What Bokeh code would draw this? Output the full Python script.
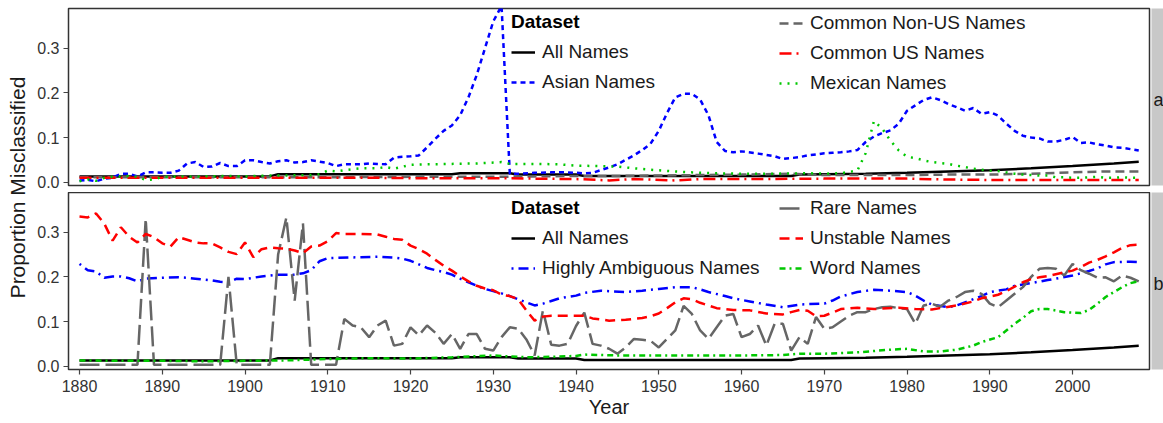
from math import pi
from bokeh.plotting import figure
from bokeh.models import Range1d, FixedTicker, PrintfTickFormatter, Legend, LegendItem, Label
from bokeh.layouts import row, column
from bokeh.embed import file_html
from bokeh.resources import INLINE

# ---------------- data (year, proportion misclassified) ----------------
x_ticks = [1880, 1890, 1900, 1910, 1920, 1930, 1940, 1950, 1960, 1970, 1980, 1990, 2000]
y_ticks = [0.0, 0.1, 0.2, 0.3]

all_names = [(1880, .013), (1903, .013), (1904, .018), (1925, .018), (1926, .020), (1932, .020),
             (1933, .017), (1940, .017), (1941, .014), (1966, .014), (1967, .017), (1970, .018),
             (1975, .019), (1980, .021), (1985, .024), (1990, .027), (1995, .031), (2000, .036),
             (2005, .042), (2008, .046)]

asian = [(1880, .004), (1881, .005), (1882, .002), (1883, .008), (1884, .010), (1885, .019), (1886, .019),
         (1887, .013), (1888, .022), (1889, .022), (1890, .021), (1891, .021), (1892, .026), (1893, .042),
         (1894, .045), (1895, .034), (1896, .035), (1897, .043), (1898, .036), (1899, .036), (1900, .049),
         (1901, .049), (1902, .045), (1903, .042), (1904, .047), (1905, .049), (1906, .044), (1907, .045),
         (1908, .049), (1909, .046), (1910, .043), (1911, .036), (1912, .040), (1913, .040), (1914, .040),
         (1915, .042), (1916, .041), (1917, .040), (1918, .055), (1919, .057), (1920, .058), (1921, .060),
         (1922, .078), (1923, .097), (1924, .115), (1925, .127), (1926, .150), (1927, .190), (1928, .240),
         (1929, .300), (1930, .360), (1931, .395), (1932, .019), (1933, .019), (1935, .021), (1937, .022),
         (1939, .022), (1941, .020), (1942, .021), (1943, .027), (1944, .033), (1945, .040), (1946, .050),
         (1947, .060), (1948, .072), (1949, .086), (1950, .115), (1951, .155), (1952, .190), (1953, .198),
         (1954, .198), (1955, .185), (1956, .150), (1957, .090), (1958, .070), (1959, .067), (1960, .069),
         (1962, .064), (1964, .058), (1965, .052), (1966, .054), (1967, .056), (1968, .060), (1969, .062),
         (1970, .065), (1971, .066), (1972, .067), (1973, .069), (1974, .072), (1975, .090), (1976, .102),
         (1977, .110), (1978, .116), (1979, .131), (1980, .160), (1981, .172), (1982, .184), (1983, .190),
         (1984, .184), (1985, .175), (1986, .168), (1987, .160), (1988, .166), (1989, .153), (1990, .157),
         (1991, .149), (1992, .131), (1993, .115), (1994, .104), (1995, .100), (1996, .098), (1997, .091),
         (1998, .091), (1999, .095), (2000, .101), (2001, .088), (2002, .089), (2003, .085), (2004, .082),
         (2005, .078), (2006, .077), (2007, .074), (2008, .071)]

common_non_us = [(1880, .011), (1890, .011), (1900, .011), (1910, .011), (1920, .012), (1930, .012),
                 (1935, .013), (1940, .014), (1945, .014), (1950, .015), (1955, .016), (1960, .017),
                 (1966, .019), (1970, .016), (1975, .016), (1980, .016), (1985, .017), (1990, .017),
                 (1995, .019), (2000, .022), (2004, .024), (2008, .024)]

common_us = [(1880, .010), (1890, .010), (1900, .010), (1910, .010), (1915, .010), (1920, .009),
             (1930, .009), (1935, .008), (1940, .007), (1944, .004), (1947, .007), (1952, .004),
             (1955, .007), (1960, .007), (1970, .008), (1980, .008), (1985, .006), (1990, .005),
             (2000, .005), (2008, .005)]

mexican = [(1880, .002), (1881, .006), (1882, .003), (1883, .010), (1884, .012), (1885, .013), (1886, .014),
           (1887, .012), (1888, .005), (1889, .006), (1890, .012), (1892, .013), (1895, .013), (1898, .014),
           (1900, .013), (1903, .015), (1905, .015), (1908, .016), (1909, .018), (1910, .026), (1911, .024),
           (1912, .027), (1914, .031), (1916, .031), (1917, .034), (1918, .030), (1920, .039), (1922, .040),
           (1925, .041), (1928, .042), (1931, .045), (1932, .041), (1935, .041), (1938, .040), (1940, .037),
           (1943, .036), (1945, .035), (1947, .031), (1949, .028), (1952, .024), (1954, .022), (1957, .020),
           (1960, .019), (1964, .019), (1968, .020), (1970, .019), (1972, .020), (1974, .026), (1975, .065),
           (1976, .137), (1977, .120), (1978, .093), (1979, .071), (1980, .057), (1981, .054), (1982, .049),
           (1983, .045), (1984, .043), (1985, .041), (1986, .037), (1987, .034), (1988, .030), (1989, .028),
           (1990, .026), (1991, .025), (1992, .022), (1993, .019), (1994, .017), (1995, .016), (1996, .015),
           (1997, .015), (1998, .011), (1999, .011), (2000, .010), (2001, .010), (2002, .011), (2003, .012),
           (2004, .010), (2005, .010), (2006, .011), (2007, .010), (2008, .010)]

rare = [(1880, .003), (1887, .003), (1888, .330), (1889, .003), (1897, .003), (1898, .200), (1899, .003),
        (1903, .003), (1904, .250), (1905, .333), (1906, .147), (1907, .320), (1908, .003), (1911, .003),
        (1912, .106), (1913, .091), (1914, .087), (1915, .065), (1916, .091), (1917, .102), (1918, .046),
        (1919, .050), (1920, .087), (1921, .069), (1922, .091), (1923, .075), (1924, .050), (1925, .072),
        (1926, .039), (1927, .072), (1928, .072), (1929, .039), (1930, .035), (1931, .065), (1932, .087),
        (1933, .084), (1934, .060), (1935, .024), (1936, .125), (1937, .048), (1938, .046), (1939, .050),
        (1940, .090), (1941, .120), (1942, .050), (1943, .046), (1944, .039), (1945, .028), (1946, .042),
        (1947, .061), (1948, .059), (1949, .057), (1950, .042), (1951, .061), (1952, .080), (1953, .135),
        (1954, .117), (1955, .080), (1956, .061), (1957, .087), (1958, .113), (1959, .117), (1960, .065),
        (1961, .072), (1962, .091), (1963, .046), (1964, .095), (1965, .095), (1966, .035), (1967, .065),
        (1968, .050), (1969, .110), (1970, .084), (1971, .087), (1972, .100), (1973, .113), (1974, .121),
        (1975, .121), (1976, .128), (1977, .132), (1978, .133), (1979, .130), (1980, .128), (1981, .095),
        (1982, .136), (1983, .140), (1984, .133), (1985, .147), (1986, .155), (1987, .166), (1988, .169),
        (1989, .162), (1990, .140), (1991, .132), (1992, .147), (1993, .162), (1994, .177), (1995, .200),
        (1996, .218), (1997, .220), (1998, .218), (1999, .203), (2000, .229), (2001, .215), (2002, .207),
        (2003, .198), (2004, .199), (2005, .190), (2006, .203), (2007, .198), (2008, .190)]

unstable = [(1880, .335), (1881, .333), (1882, .342), (1883, .319), (1884, .281), (1885, .311), (1886, .290),
            (1887, .277), (1888, .296), (1889, .289), (1890, .275), (1891, .268), (1892, .289), (1893, .283),
            (1894, .277), (1895, .275), (1896, .275), (1897, .266), (1898, .256), (1899, .251), (1900, .277),
            (1901, .244), (1902, .262), (1903, .266), (1904, .264), (1905, .263), (1906, .259), (1907, .253),
            (1908, .268), (1909, .270), (1910, .280), (1911, .298), (1912, .296), (1914, .296), (1916, .295),
            (1917, .290), (1918, .285), (1919, .283), (1920, .270), (1921, .262), (1922, .252), (1923, .238),
            (1924, .225), (1925, .214), (1926, .201), (1927, .190), (1928, .180), (1929, .174), (1930, .170),
            (1931, .160), (1932, .157), (1933, .150), (1934, .125), (1935, .102), (1936, .111), (1937, .113),
            (1939, .113), (1941, .113), (1942, .107), (1944, .102), (1946, .104), (1948, .108), (1949, .112),
            (1950, .118), (1951, .130), (1952, .143), (1953, .152), (1954, .150), (1955, .142), (1956, .136),
            (1957, .130), (1959, .126), (1961, .125), (1963, .118), (1965, .116), (1966, .121), (1967, .126),
            (1968, .124), (1969, .112), (1970, .113), (1971, .120), (1972, .128), (1974, .131), (1976, .128),
            (1979, .131), (1981, .128), (1983, .127), (1984, .130), (1986, .136), (1988, .145), (1989, .152),
            (1991, .160), (1992, .168), (1993, .178), (1994, .188), (1995, .195), (1996, .199), (1997, .202),
            (1999, .210), (2000, .214), (2001, .222), (2002, .232), (2003, .238), (2004, .246), (2005, .255),
            (2006, .265), (2007, .271), (2008, .272)]

highly_ambiguous = [(1880, .229), (1881, .215), (1882, .212), (1883, .198), (1884, .201), (1885, .201),
                    (1886, .197), (1887, .190), (1888, .196), (1890, .198), (1892, .199), (1893, .198),
                    (1894, .196), (1896, .192), (1897, .189), (1898, .188), (1899, .196), (1900, .195),
                    (1901, .198), (1902, .201), (1904, .205), (1906, .205), (1907, .208), (1908, .215),
                    (1909, .235), (1910, .242), (1914, .244), (1916, .245), (1918, .243), (1919, .241),
                    (1920, .236), (1921, .228), (1922, .220), (1923, .215), (1924, .211), (1925, .205),
                    (1926, .196), (1927, .188), (1928, .180), (1929, .173), (1930, .168), (1931, .163),
                    (1932, .157), (1933, .150), (1934, .143), (1935, .136), (1936, .140), (1937, .146),
                    (1938, .152), (1940, .158), (1941, .164), (1943, .169), (1946, .166), (1948, .169),
                    (1950, .173), (1952, .177), (1954, .177), (1955, .172), (1956, .166), (1958, .157),
                    (1959, .152), (1961, .145), (1963, .138), (1965, .132), (1967, .138), (1968, .139),
                    (1970, .140), (1971, .147), (1972, .156), (1974, .166), (1976, .171), (1978, .169),
                    (1980, .166), (1981, .158), (1982, .147), (1983, .138), (1985, .132), (1986, .136),
                    (1987, .143), (1989, .157), (1990, .166), (1992, .172), (1993, .180), (1995, .186),
                    (1997, .193), (1998, .196), (2000, .203), (2001, .208), (2002, .213), (2003, .219),
                    (2004, .228), (2005, .233), (2007, .234), (2008, .233)]

word = [(1880, .013), (1885, .012), (1890, .012), (1895, .011), (1900, .012), (1905, .013), (1910, .016),
        (1915, .018), (1920, .017), (1925, .020), (1930, .024), (1934, .020), (1937, .021), (1940, .023),
        (1941, .026), (1945, .024), (1950, .024), (1955, .024), (1960, .024), (1965, .025), (1967, .028),
        (1970, .028), (1974, .031), (1978, .037), (1980, .039), (1982, .033), (1984, .033), (1986, .037),
        (1988, .046), (1989, .054), (1991, .065), (1992, .080), (1993, .095), (1994, .108), (1995, .123),
        (1996, .128), (1997, .128), (1999, .121), (2001, .119), (2002, .126), (2003, .140), (2004, .155),
        (2005, .166), (2006, .177), (2007, .186), (2008, .190)]

# ---------------- styling ----------------
FONT = "Liberation Sans"
TXT = "#1a1a1a"
AX = "#333333"
XR = (1878.67, 2009.30)
YR = (-0.0074, 0.3889)
LW = 2.5

panel_a = [("All Names", all_names, "black", "solid"),
           ("Asian Names", asian, "#0000ff", "5 4"),
           ("Common Non-US Names", common_non_us, "#666666", "9 5"),
           ("Common US Names", common_us, "#ff0000", "12 5 2 5"),
           ("Mexican Names", mexican, "#00c800", "2 6")]
panel_b = [("All Names", all_names, "black", "solid"),
           ("Highly Ambiguous Names", highly_ambiguous, "#0000ff", "2 5 10 5"),
           ("Rare Names", rare, "#666666", "20 6"),
           ("Unstable Names", unstable, "#ff0000", "10 6"),
           ("Word Names", word, "#00c800", "6 4 2 4")]


def style_legend(leg):
    leg.border_line_color = None
    leg.background_fill_alpha = 0
    leg.padding = 0
    leg.margin = 0
    leg.spacing = 0
    leg.label_height = 30
    leg.glyph_height = 30
    leg.glyph_width = 24
    leg.label_standoff = 7
    leg.label_text_font = FONT
    leg.label_text_font_size = "19px"
    leg.label_text_color = TXT
    leg.title_text_font = FONT
    leg.title_text_font_size = "19px"
    leg.title_text_font_style = "bold"
    leg.title_text_color = "black"
    leg.title_standoff = 4


def make_panel(series, top, bottom, show_x):
    p = figure(frame_width=1081, frame_height=177,
               min_border_left=33, min_border_right=2, min_border_top=top, min_border_bottom=bottom,
               x_range=Range1d(*XR), y_range=Range1d(*YR),
               x_axis_location="below" if show_x else None,
               toolbar_location=None, output_backend="svg",
               background_fill_color="white", border_fill_color="white")
    p.grid.visible = False
    p.outline_line_color = AX
    p.outline_line_width = 1.5
    p.yaxis.ticker = FixedTicker(ticks=y_ticks, minor_ticks=[])
    p.yaxis.formatter = PrintfTickFormatter(format="%.1f")
    axes = p.yaxis + (p.xaxis if show_x else [])
    for ax in axes:
        ax.axis_line_color = None
        ax.major_tick_line_color = "#444444"
        ax.major_tick_line_width = 1.2
        ax.major_tick_out = 5
        ax.major_tick_in = 0
        ax.minor_tick_line_color = None
        ax.major_label_text_font = FONT
        ax.major_label_text_font_size = "16px"
        ax.major_label_text_color = "#333333"
        ax.major_label_standoff = 4
    if show_x:
        p.xaxis.ticker = FixedTicker(ticks=x_ticks, minor_ticks=[])
        p.xaxis.major_label_standoff = 5
        p.xaxis.axis_label = "Year"
        p.xaxis.axis_label_text_font = FONT
        p.xaxis.axis_label_text_font_size = "20px"
        p.xaxis.axis_label_text_font_style = "normal"
        p.xaxis.axis_label_text_color = TXT
        p.xaxis.axis_label_standoff = 1
    rs = {}
    for name, data, color, dash in series:
        xs = [d[0] for d in data]
        ys = [d[1] for d in data]
        rs[name] = p.line(xs, ys, line_color=color, line_width=LW, line_dash=dash, line_cap="butt")
    return p, rs


def add_legends(p, rs, col1, col2, y1, y2):
    l1 = Legend(items=[LegendItem(label=n, renderers=[rs[n]]) for n in col1],
                title="Dataset", location=(443, y1))
    l2 = Legend(items=[LegendItem(label=n, renderers=[rs[n]]) for n in col2], location=(711, y2))
    for l in (l1, l2):
        style_legend(l)
        p.add_layout(l)


def make_strip(letter, top, bottom):
    s = figure(frame_width=13, frame_height=177, min_border_left=0, min_border_right=0,
               min_border_top=top, min_border_bottom=bottom,
               x_range=Range1d(0, 13), y_range=Range1d(0, 177),
               x_axis_location=None, y_axis_location=None,
               toolbar_location=None, output_backend="svg",
               background_fill_color="#c8c8c8", border_fill_color="white")
    s.outline_line_color = None
    s.grid.visible = False
    s.add_layout(Label(x=7, y=86, text=letter, text_align="center", text_baseline="middle",
                       text_font=FONT, text_font_size="18px", text_color=TXT))
    return s


# panel a: top border 8, frame 177, bottom 7  -> 192 px
# panel b: top border 0, frame 177, bottom 54 -> 231 px  (total 423)
pa, ra = make_panel(panel_a, 8, 7, False)
add_legends(pa, ra, ["All Names", "Asian Names"],
            ["Common Non-US Names", "Common US Names", "Mexican Names"], 88, 87)

pb, rb = make_panel(panel_b, 0, 54, True)
add_legends(pb, rb, ["All Names", "Highly Ambiguous Names"],
            ["Rare Names", "Unstable Names", "Word Names"], 86, 86)

sa = make_strip("a", 8, 7)
sb = make_strip("b", 0, 54)

left = figure(width=34, height=423, min_border=0, x_range=Range1d(0, 34), y_range=Range1d(0, 423),
              x_axis_location=None, y_axis_location=None, toolbar_location=None,
              output_backend="svg", border_fill_color="white")
left.outline_line_color = None
left.grid.visible = False
left.add_layout(Label(x=17, y=236, text="Proportion Misclassified", angle=pi / 2,
                      text_align="center", text_baseline="middle",
                      text_font=FONT, text_font_size="21px", text_color=TXT))

layout = row(left, column(row(pa, sa), row(pb, sb)))

with open("out.html", "w") as f:
    f.write(file_html(layout, INLINE))
